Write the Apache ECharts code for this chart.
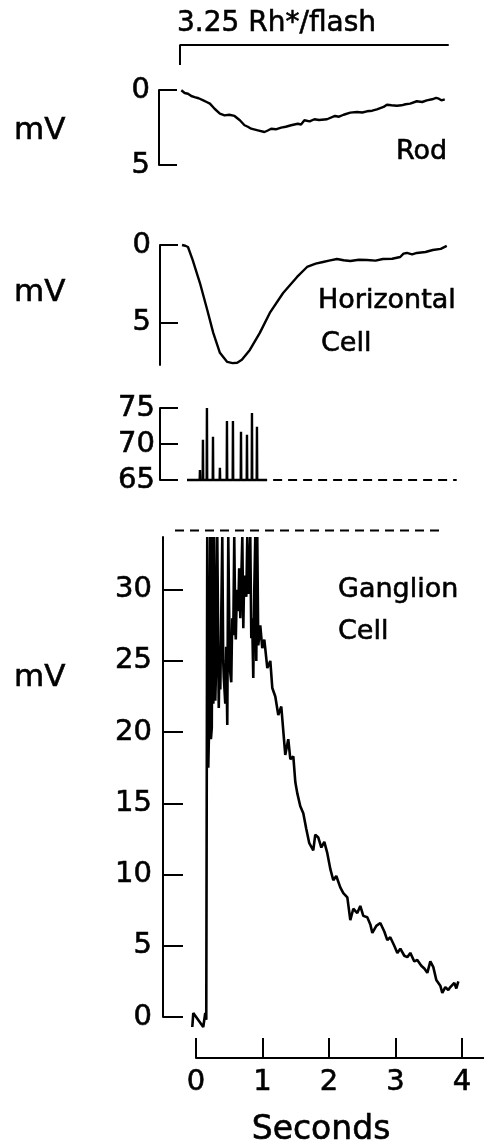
<!DOCTYPE html>
<html>
<head>
<meta charset="utf-8">
<title>Rod, horizontal and ganglion cell responses</title>
<script src="https://cdn.jsdelivr.net/npm/echarts@6/dist/echarts.min.js"></script>
<style>
  html, body { margin: 0; padding: 0; background: #fff; }
  #chart { width: 484px; height: 1148px; }
</style>
</head>
<body>
<div id="chart"></div>
<script>
// time in seconds, voltage in mV
const rodT = [-0.22, -0.17, -0.12, -0.07, -0.02, 0.04, 0.11, 0.16, 0.21, 0.28, 0.36, 0.43, 0.5, 0.58, 0.66, 0.73, 0.78, 0.83, 0.93, 1.03, 1.08, 1.13, 1.2, 1.28, 1.35, 1.43, 1.53, 1.58, 1.63, 1.71, 1.78, 1.85, 1.97, 2.09, 2.15, 2.22, 2.32, 2.42, 2.5, 2.57, 2.65, 2.72, 2.82, 2.87, 2.94, 3.02, 3.09, 3.15, 3.22, 3.32, 3.4, 3.47, 3.55, 3.61, 3.65, 3.69, 3.74]
const rodMv = [0.02, 0.2, 0.25, 0.4, 0.47, 0.55, 0.69, 0.8, 0.91, 1.25, 1.58, 1.69, 1.65, 1.73, 2.02, 2.35, 2.45, 2.58, 2.69, 2.8, 2.7, 2.58, 2.62, 2.51, 2.45, 2.35, 2.25, 2.3, 2.02, 2.09, 1.95, 2.0, 1.95, 1.73, 1.78, 1.65, 1.51, 1.47, 1.5, 1.42, 1.38, 1.29, 1.13, 0.98, 1.02, 1.05, 1.02, 0.95, 0.91, 0.75, 0.8, 0.69, 0.62, 0.53, 0.58, 0.69, 0.62]

const horT = [-0.21, -0.16, -0.12, -0.05, 0.06, 0.17, 0.26, 0.36, 0.47, 0.55, 0.62, 0.69, 0.81, 0.96, 1.11, 1.31, 1.52, 1.67, 1.8, 1.91, 2.0, 2.12, 2.22, 2.32, 2.45, 2.57, 2.7, 2.81, 2.95, 3.07, 3.12, 3.17, 3.25, 3.32, 3.45, 3.56, 3.68, 3.77]
const horMv = [0, 0.05, 0.13, 0.96, 2.44, 4.17, 5.64, 6.92, 7.5, 7.58, 7.56, 7.37, 6.73, 5.64, 4.36, 3.08, 2.05, 1.41, 1.2, 1.09, 1.0, 0.9, 0.98, 1.03, 0.95, 0.96, 1.0, 0.9, 0.88, 0.77, 0.55, 0.51, 0.6, 0.51, 0.45, 0.32, 0.25, 0.06]

// spike train (mV)
const spikeT = [0.06, 0.105, 0.165, 0.256, 0.36, 0.466, 0.556, 0.677, 0.767, 0.842, 0.917]
const spikePeak = [66.4, 70.6, 75, 71, 66.7, 73.2, 73.2, 71.7, 71.3, 74.3, 72.4]
const spikeRest = 65
const spikeBaseT = [-0.135, 1.07]
const restDashT = [1.16, 3.92]

// ganglion cell: baseline, spiking burst, slow decay
const gangPreT = [-0.06, -0.045, 0.105, 0.135, 0.15]
const gangPreMv = [-0.7, 0.28, -0.7, 0.28, -0.2]
const gangBurstT = [0.165, 0.18, 0.195, 0.21, 0.22, 0.233, 0.245, 0.256, 0.27, 0.286, 0.3, 0.316, 0.338, 0.35, 0.361, 0.391, 0.405, 0.414, 0.436, 0.45, 0.466, 0.481, 0.504, 0.526, 0.54, 0.556, 0.571, 0.585, 0.594, 0.61, 0.632, 0.645, 0.662, 0.692, 0.707, 0.72, 0.737, 0.752, 0.767, 0.782, 0.797, 0.812, 0.827, 0.84, 0.857, 0.872, 0.887, 0.902, 0.917, 0.932]
const gangBurstMv = [33.7, 17.5, 20.8, 33.7, 19.5, 20.3, 33.7, 22, 33.7, 22.2, 25, 33.7, 21.7, 26, 23, 33.7, 25, 23.8, 22, 26, 20.5, 33.7, 24.5, 23.5, 28, 26.8, 33.7, 28, 26.5, 30, 28.5, 31.5, 28, 33.7, 27.3, 31, 30, 29.5, 33.7, 29.7, 31, 33.7, 26.6, 28, 23.8, 30, 33.7, 25, 33.7, 26.1]
const gangDecayT = [0.962, 0.992, 1.023, 1.068, 1.113, 1.143, 1.188, 1.233, 1.278, 1.338, 1.383, 1.414, 1.459, 1.489, 1.519, 1.564, 1.609, 1.654, 1.699, 1.759, 1.789, 1.835, 1.88, 1.925, 1.97, 2.015, 2.06, 2.105, 2.165, 2.211, 2.271, 2.316, 2.361, 2.421, 2.466, 2.511, 2.571, 2.617, 2.647, 2.707, 2.767, 2.827, 2.872, 2.917, 2.977, 3.023, 3.068, 3.128, 3.173, 3.218, 3.278, 3.323, 3.383, 3.429, 3.474, 3.519, 3.564, 3.609, 3.669, 3.699, 3.744, 3.789, 3.82, 3.88, 3.91, 3.94]
const gangDecayMv = [27.5, 25.9, 26.5, 24.5, 25, 23.1, 22.5, 21.2, 21.8, 18.4, 19.5, 18.1, 18.3, 16.5, 15.7, 14.8, 14.3, 13.2, 12.2, 11.7, 12.8, 12.6, 11.9, 12.3, 11.5, 10.4, 9.6, 9.9, 9.1, 8.7, 8.4, 6.8, 7.6, 7.3, 7.8, 7.1, 7.0, 6.5, 5.9, 6.4, 6.6, 6.0, 5.4, 5.6, 5.0, 4.5, 4.8, 4.3, 4.2, 4.5, 3.9, 4.0, 3.6, 3.4, 3.1, 3.9, 3.5, 2.6, 2.2, 1.7, 2.1, 1.9, 2.1, 2.4, 2.0, 2.5]
const topDashT = [-0.32, 3.74]
const topDashMv = 34.15

// flash marker above the rod trace
const flashT = [-0.24, -0.24, 3.8]
const flashMv = [-1.67, -3.0, -3.0]

const rodTicks = [0, 5]
const horTicks = [0, 5]
const spikeTicks = [65, 70, 75]
const gangTicks = [0, 5, 10, 15, 20, 25, 30]
const secTicks = [0, 1, 2, 3, 4]

const font = 'DejaVu Sans'
const ink = '#000'

function zip (xs, ys) {
  return xs.map((x, i) => [x, ys[i]])
}

function spikePath () {
  const pts = [[spikeBaseT[0], spikeRest]]
  spikeT.forEach((t, i) => {
    pts.push([t - 0.004, spikeRest], [t, spikePeak[i]], [t + 0.004, spikeRest])
  })
  pts.push([spikeBaseT[1], spikeRest])
  return pts
}

function tickLabel (ticks, margin) {
  return {
    customValues: ticks,
    color: ink,
    fontFamily: font,
    fontSize: 29,
    margin: margin,
    textBorderColor: ink,
    textBorderWidth: 0.6
  }
}

function leftAxis (idx, ticks, opts) {
  return Object.assign({
    gridIndex: idx,
    type: 'value',
    axisLine: { show: true, onZero: false, lineStyle: { color: ink, width: 2 } },
    axisTick: { show: true, inside: true, length: 18, customValues: ticks, lineStyle: { color: ink, width: 2 } },
    axisLabel: tickLabel(ticks, 9),
    splitLine: { show: false }
  }, opts)
}

function hiddenX (idx, min, max) {
  return { gridIndex: idx, type: 'value', min: min, max: max, show: false }
}

function trace (xi, data, extra) {
  return Object.assign({
    type: 'line',
    xAxisIndex: xi,
    yAxisIndex: xi,
    data: data,
    showSymbol: false,
    symbol: 'none',
    clip: false,
    lineStyle: { color: ink, width: 2.4 },
    silent: true
  }, extra)
}

function label (text, x, y, size, align) {
  return {
    type: 'text',
    x: x,
    y: y,
    style: {
      text: text,
      font: size + 'px "' + font + '"',
      fill: ink,
      stroke: ink,
      lineWidth: 0.6,
      textAlign: align || 'left',
      textVerticalAlign: 'middle'
    }
  }
}

const chart = echarts.init(document.getElementById('chart'))

const option = {
  animation: false,
  backgroundColor: '#fff',
  grid: [
    { left: 176, width: 308, top: 90, height: 75 },
    { left: 176, width: 308, top: 245, height: 120 },
    { left: 176, width: 308, top: 408, height: 72 },
    { left: 175, width: 309, top: 537, height: 480 },
    { left: 196, width: 288, top: 1038, height: 20 } // time axis
  ],
  xAxis: [
    hiddenX(0, -0.3, 4.33),
    hiddenX(1, -0.3, 4.33),
    hiddenX(2, -0.3, 4.33),
    hiddenX(3, -0.32, 4.326),
    {
      gridIndex: 4,
      type: 'value',
      min: 0,
      max: 4.33,
      position: 'bottom',
      axisLine: { show: true, onZero: false, lineStyle: { color: ink, width: 2 } },
      axisTick: { show: true, inside: true, length: 20, customValues: secTicks, lineStyle: { color: ink, width: 2 } },
      axisLabel: tickLabel(secTicks, 10),
      splitLine: { show: false }
    }
  ],
  yAxis: [
    leftAxis(0, rodTicks, { inverse: true, min: 0, max: 5, offset: 17 }),
    leftAxis(1, horTicks, { inverse: true, min: 0, max: 7.7, offset: 16 }),
    leftAxis(2, spikeTicks, { min: 65, max: 75, offset: 16, axisLabel: tickLabel(spikeTicks, 5) }),
    leftAxis(3, gangTicks, {
      min: 0,
      max: 33.7,
      offset: 12,
      axisTick: { show: true, inside: true, length: 20, customValues: gangTicks, lineStyle: { color: ink, width: 2 } },
      axisLabel: tickLabel(gangTicks, 11)
    }),
    { gridIndex: 4, type: 'value', min: 0, max: 1, show: false }
  ],
  series: [
    trace(0, zip(rodT, rodMv)),
    trace(0, zip(flashT, flashMv), { lineStyle: { color: ink, width: 2 } }),
    trace(1, zip(horT, horMv)),
    trace(2, spikePath(), { lineStyle: { color: ink, width: 2.4 } }),
    trace(2, restDashT.map(t => [t, spikeRest]), { lineStyle: { color: ink, width: 2, type: [9, 6] } }),
    trace(3, zip(gangPreT, gangPreMv).concat(zip(gangBurstT, gangBurstMv), zip(gangDecayT, gangDecayMv)), { lineStyle: { color: ink, width: 2.6 } }),
    trace(3, topDashT.map(t => [t, topDashMv]), { lineStyle: { color: ink, width: 2, type: [9, 6] } })
  ],
  graphic: [
    label('3.25 Rh*/flash', 177, 24, 28),
    label('mV', 14, 131, 31),
    label('mV', 14, 293, 31),
    label('mV', 14, 678, 31),
    label('Rod', 396, 152, 27),
    label('Horizontal', 318, 301, 27),
    label('Cell', 321, 344, 27),
    label('Ganglion', 338, 590, 27),
    label('Cell', 338, 632, 27),
    label('Seconds', 321, 1130, 33, 'center')
  ]
}

chart.setOption(option)
</script>
</body>
</html>
